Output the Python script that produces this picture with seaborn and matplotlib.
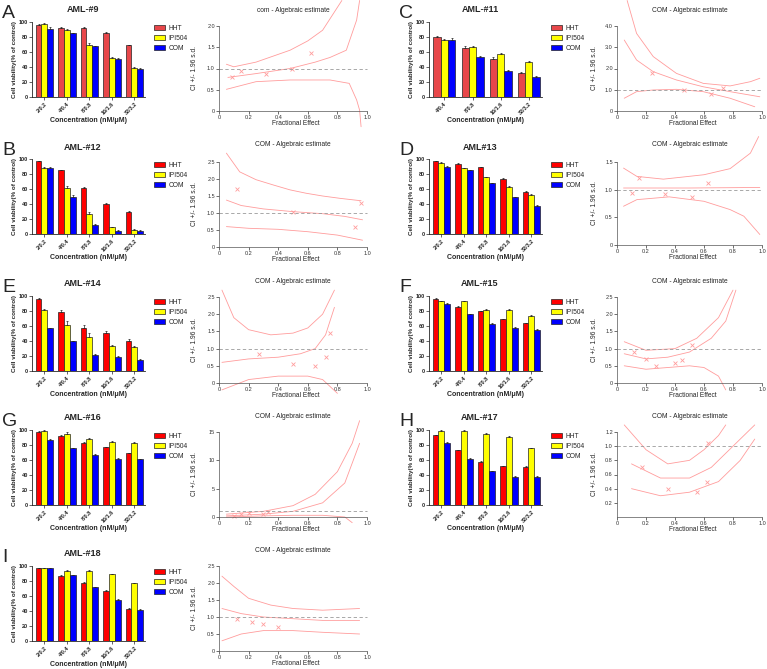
import matplotlib
matplotlib.use("Agg")
import matplotlib.pyplot as plt
import seaborn as sns
import pandas as pd

sns.set_style("ticks")
plt.rcParams["font.family"] = ["Liberation Sans", "DejaVu Sans"]
plt.rcParams["axes.linewidth"] = 0.6

W, H = 767, 669

conc5 = ["2/0.2", "4/0.4", "8/0.8", "16/1.6", "32/3.2"]
conc4 = ["4/0.4", "8/0.8", "16/1.6", "32/3.2"]
drugs = ["HHT", "IPI504", "COM"]

# cell viability (% of control) and error, order HHT / IPI504 / COM
aml9_hht = [96, 92, 92, 86, 69]
aml9_ipi = [98, 90, 70, 52, 39]
aml9_com = [91, 85, 68, 51, 38]
aml9_err = [[1, 1, 1, 1, 1], [1, 1, 1.5, 1, 1], [2.5, 1, 0.5, 1, 0.5]]

aml11_hht = [80, 66, 51, 32]
aml11_ipi = [76, 67, 57, 47]
aml11_com = [76, 54, 35, 27]
aml11_err = [[1, 2.5, 3, 1], [1, 0.5, 1.5, 1], [3, 1, 0.5, 0.5]]

aml12_hht = [97, 85, 61, 40, 30]
aml12_ipi = [88, 62, 27, 9, 6]
aml12_com = [88, 50, 12, 4, 4]
aml12_err = [[1, 1, 1.5, 1, 1], [1.5, 2, 2, 1, 1], [1.5, 2, 1, 1, 1]]

aml13_hht = [97, 94, 89, 74, 56]
aml13_ipi = [95, 88, 76, 63, 52]
aml13_com = [90, 85, 68, 49, 38]
aml13_err = [[0.5, 1, 0.5, 0.5, 1], [0.5, 0.5, 0.5, 1, 1.5], [0.5, 0.5, 0.5, 0.5, 1]]

aml14_hht = [96, 79, 58, 51, 40]
aml14_ipi = [81, 62, 46, 33, 32]
aml14_com = [57, 40, 22, 19, 15]
aml14_err = [[1, 2, 3, 2, 3], [1.5, 5, 5, 2, 1], [0.5, 0.5, 0.5, 0.5, 0.5]]

aml15_hht = [96, 86, 80, 69, 64]
aml15_ipi = [93, 93, 82, 82, 74]
aml15_com = [90, 76, 63, 58, 55]
aml15_err = [[1, 0.5, 0.5, 0.5, 0.5], [0.5, 1, 1, 1, 1], [1, 0.5, 0.5, 0.5, 0.5]]

aml16_hht = [98, 92, 83, 77, 69]
aml16_ipi = [99, 95, 88, 84, 83]
aml16_com = [87, 76, 67, 62, 61]
aml16_err = [[1, 1, 1, 1, 1], [1, 2, 1, 1, 1], [0.5, 0.5, 0.5, 0.5, 0.5]]

aml17_hht = [93, 73, 58, 52, 51]
aml17_ipi = [99, 99, 95, 91, 76]
aml17_com = [83, 62, 45, 38, 38]
aml17_err = [[1, 0.5, 0.5, 0.5, 0.5], [0.5, 0.5, 0.5, 0.5, 0.5], [0.5, 0.5, 0.5, 0.5, 0.5]]

aml18_hht = [97, 87, 78, 67, 43]
aml18_ipi = [97, 94, 94, 89, 77]
aml18_com = [97, 88, 72, 55, 42]
aml18_err = [[0.5, 0.5, 0.5, 0.5, 0.5], [0.5, 0.5, 0.5, 0.5, 0.5], [0.5, 0.5, 0.5, 0.5, 0.5]]

# CI +/- 1.96 s.d. curves, (fractional effect, CI)
aml9_ci_up = [(0.05, 1.10), (0.10, 1.04), (0.25, 1.15), (0.48, 1.43), (0.60, 1.65), (0.70, 1.90), (0.83, 2.60)]
aml9_ci_mid = [(0.06, 0.79), (0.25, 0.88), (0.48, 1.00), (0.65, 1.15), (0.75, 1.26), (0.86, 1.43), (0.93, 2.14), (0.95, 2.60)]
aml9_ci_low = [(0.05, 0.51), (0.25, 0.69), (0.48, 0.73), (0.75, 0.73), (0.88, 0.65), (0.93, 0.26), (0.95, 0.02), (0.96, -0.37)]
aml9_ci_pts = [(0.09, 0.80), (0.15, 0.95), (0.32, 0.86), (0.49, 0.99), (0.62, 1.36)]

aml11_ci_up = [(0.07, 5.2), (0.135, 3.65), (0.25, 2.56), (0.41, 1.77), (0.595, 1.30), (0.78, 1.18), (0.92, 1.38), (0.985, 1.54)]
aml11_ci_mid = [(0.05, 3.34), (0.135, 2.40), (0.25, 1.85), (0.41, 1.46), (0.595, 1.14), (0.78, 0.91), (0.985, 0.67)]
aml11_ci_low = [(0.05, 0.60), (0.135, 0.91), (0.25, 0.99), (0.41, 1.02), (0.595, 0.91), (0.78, 0.60), (0.95, 0.20)]
aml11_ci_pts = [(0.24, 1.80), (0.46, 0.99), (0.65, 0.80), (0.73, 1.07)]

aml12_ci_up = [(0.05, 2.76), (0.14, 2.21), (0.25, 1.98), (0.37, 1.82), (0.48, 1.68), (0.59, 1.58), (0.70, 1.50), (0.82, 1.43), (0.96, 1.36)]
aml12_ci_mid = [(0.05, 1.38), (0.15, 1.22), (0.30, 1.12), (0.50, 1.04), (0.70, 0.98), (0.85, 0.90), (0.97, 0.80)]
aml12_ci_low = [(0.05, 0.60), (0.20, 0.55), (0.40, 0.52), (0.60, 0.45), (0.80, 0.35), (0.97, 0.20)]
aml12_ci_pts = [(0.12, 1.70), (0.50, 1.02), (0.92, 0.60), (0.96, 1.30)]

aml13_ci_up = [(0.045, 1.39), (0.137, 1.24), (0.32, 1.19), (0.60, 1.27), (0.78, 1.38), (0.92, 1.66), (0.977, 1.96)]
aml13_ci_mid = [(0.045, 1.03), (0.50, 1.03), (0.985, 1.04)]
aml13_ci_low = [(0.045, 0.70), (0.137, 0.82), (0.36, 0.87), (0.60, 0.79), (0.78, 0.64), (0.875, 0.52), (0.985, 0.19)]
aml13_ci_pts = [(0.10, 0.94), (0.15, 1.21), (0.33, 0.93), (0.52, 0.86), (0.63, 1.12)]

aml14_ci_up = [(0.02, 2.70), (0.10, 1.90), (0.20, 1.55), (0.35, 1.40), (0.50, 1.45), (0.60, 1.60), (0.70, 2.00), (0.78, 2.70)]
aml14_ci_mid = [(0.02, 0.60), (0.20, 0.70), (0.40, 0.75), (0.55, 0.85), (0.65, 1.00), (0.72, 1.40), (0.78, 2.20)]
aml14_ci_low = [(0.02, -0.20), (0.20, 0.10), (0.40, 0.20), (0.60, 0.20), (0.70, 0.10), (0.80, -0.30)]
aml14_ci_pts = [(0.27, 0.85), (0.50, 0.55), (0.65, 0.50), (0.72, 0.75), (0.75, 1.45)]

aml15_ci_up = [(0.05, 1.20), (0.20, 0.95), (0.40, 1.00), (0.55, 1.30), (0.70, 1.90), (0.80, 2.70)]
aml15_ci_mid = [(0.05, 0.85), (0.20, 0.70), (0.35, 0.75), (0.50, 0.90), (0.65, 1.30), (0.75, 1.80), (0.82, 2.70)]
aml15_ci_low = [(0.05, 0.50), (0.20, 0.40), (0.35, 0.45), (0.50, 0.50), (0.60, 0.45), (0.70, 0.20), (0.75, -0.20)]
aml15_ci_pts = [(0.12, 0.90), (0.20, 0.70), (0.27, 0.50), (0.40, 0.58), (0.45, 0.68), (0.52, 1.10)]

aml16_ci_up = [(0.05, 0.5), (0.30, 1.0), (0.50, 2.0), (0.65, 4.0), (0.80, 8.0), (0.90, 13.0), (0.95, 17.0)]
aml16_ci_mid = [(0.05, 0.2), (0.30, 0.5), (0.50, 1.0), (0.70, 2.5), (0.85, 6.0), (0.95, 13.0)]
aml16_ci_low = [(0.05, 0.0), (0.30, 0.2), (0.50, 0.3), (0.70, 0.3), (0.85, 0.0), (0.90, -1.0)]
aml16_ci_pts = [(0.10, 0.2), (0.15, 0.5), (0.20, 0.7), (0.30, 0.6), (0.33, 0.8)]

aml17_ci_up = [(0.05, 1.30), (0.20, 0.95), (0.35, 0.75), (0.50, 0.80), (0.60, 0.95), (0.70, 1.15), (0.75, 1.30)]
aml17_ci_mid = [(0.10, 0.75), (0.30, 0.55), (0.50, 0.55), (0.65, 0.70), (0.80, 1.00), (0.95, 1.30)]
aml17_ci_low = [(0.10, 0.40), (0.30, 0.30), (0.50, 0.35), (0.70, 0.50), (0.85, 0.80), (0.95, 1.10)]
aml17_ci_pts = [(0.17, 0.70), (0.35, 0.40), (0.55, 0.35), (0.62, 0.50), (0.63, 1.05)]

aml18_ci_up = [(0.02, 2.20), (0.10, 1.90), (0.20, 1.55), (0.35, 1.35), (0.50, 1.25), (0.70, 1.20), (0.95, 1.25)]
aml18_ci_mid = [(0.02, 1.25), (0.15, 1.10), (0.30, 1.00), (0.50, 0.95), (0.70, 0.90), (0.95, 0.90)]
aml18_ci_low = [(0.02, 0.30), (0.15, 0.50), (0.30, 0.60), (0.50, 0.60), (0.70, 0.55), (0.95, 0.50)]
aml18_ci_pts = [(0.12, 0.95), (0.22, 0.85), (0.30, 0.78), (0.40, 0.72)]

pink = "#FF9C9C"
fig = plt.figure(figsize=(W / 100, H / 100), dpi=100)


def px_axes(x0, y0, w, h):
    return fig.add_axes([x0 / W, 1 - (y0 + h) / H, w / W, h / H])


def bar_panel(letter, title, cats, hht, ipi, com, errs, x0, ytop, red):
    ax = px_axes(x0, ytop, 113, 75)
    df = pd.DataFrame({
        "conc": cats * 3,
        "drug": [d for d in drugs for _ in cats],
        "value": hht + ipi + com,
    })
    sns.barplot(data=df, x="conc", y="value", hue="drug", hue_order=drugs,
                palette=[red, "#FFFF00", "#0000FF"], saturation=1, width=0.78,
                edgecolor="#222222", linewidth=0.5, errorbar=None, ax=ax)
    for cont, err in zip(ax.containers, errs):
        xs = [b.get_x() + b.get_width() / 2 for b in cont]
        ys = [b.get_height() for b in cont]
        ax.errorbar(xs, ys, yerr=[[0] * len(err), err], fmt="none", ecolor="#222222",
                    elinewidth=0.5, capsize=1, capthick=0.5)
    ax.set_xlim(-0.55, len(cats) - 0.53)
    ax.set_ylim(0, 100)
    ax.set_yticks(range(0, 101, 20))
    sns.despine(ax=ax)
    ax.tick_params(length=2, width=0.5, pad=1, labelsize=4)
    ax.set_xticks(range(len(cats)))
    ax.set_xticklabels(cats, rotation=45, ha="right", rotation_mode="anchor")
    for lbl in ax.get_xticklabels() + ax.get_yticklabels():
        lbl.set_fontweight("bold")
    ax.set_ylabel("Cell viability(% of control)", fontsize=4.5, fontweight="bold", labelpad=1)
    ax.set_xlabel("Concentration (nM/μM)", fontsize=5, fontweight="bold", labelpad=1)
    handles, labels = ax.get_legend_handles_labels()
    ax.legend(handles, labels, loc="upper left", bbox_to_anchor=(1.06, 1.0), frameon=False,
              fontsize=4.8, handlelength=1.6, handleheight=0.9, labelspacing=0.45,
              handletextpad=0.5, borderaxespad=0)
    fig.text((x0 + 51) / W, 1 - (ytop - 12) / H, title, ha="center", va="center",
             fontsize=6.5, fontweight="bold")
    fig.text((x0 - 30) / W, 1 - (ytop - 17) / H, letter, ha="left", va="top", fontsize=14)


def ci_panel(title, up, mid, low, pts, ticks, ticklabels, x0, x1, y0, yt_px, row, ylab_x):
    rt, rb = row
    s = (y0 - yt_px) / ticks[-1]
    ax = px_axes(x0, rt, (x1 - x0) * 1.04, rb - rt)
    ax.set_xlim(0, 1.04)
    ax.set_ylim(-(rb - y0) / s, (y0 - rt) / s)
    for curve in (up, mid, low):
        sns.lineplot(x=[p[0] for p in curve], y=[p[1] for p in curve], sort=False,
                     estimator=None, color=pink, lw=0.6, ax=ax)
    sns.scatterplot(x=[p[0] for p in pts], y=[p[1] for p in pts], marker="x", color=pink,
                    s=8, linewidth=0.6, ax=ax)
    ax.hlines(1, 0, 1, colors="#9a9a9a", linestyles=(0, (4, 3)), lw=0.6)
    sns.despine(ax=ax)
    ax.spines["left"].set_bounds(0, ticks[-1])
    ax.spines["bottom"].set_position(("data", 0))
    ax.spines["bottom"].set_bounds(0, 1)
    for sp in ("left", "bottom"):
        ax.spines[sp].set_color("#555555")
        ax.spines[sp].set_linewidth(0.5)
    ax.set_yticks(ticks)
    ax.set_yticklabels(ticklabels)
    ax.set_xticks([0, 0.2, 0.4, 0.6, 0.8, 1.0])
    ax.set_xticklabels(["0", "0.2", "0.4", "0.6", "0.8", "1.0"])
    ax.tick_params(length=2, width=0.5, pad=1, labelsize=4, colors="#333333")
    ax.set_xlabel("Fractional Effect", fontsize=4.8, labelpad=0)
    ax.set_ylabel("")
    ax.annotate(title, xy=(0.5, (rb - (rt + 11)) / (rb - rt)), xycoords=("data", "axes fraction"),
                ha="center", va="center", fontsize=4.8)
    fig.text(ylab_x / W, 1 - ((y0 + yt_px) / 2) / H, "CI +/- 1.96 s.d.", rotation=90,
             ha="center", va="center", fontsize=4.8)


rows = [(0, 130), (134, 268), (270, 403), (405, 538), (540, 669)]
bar_tops = [22, 159, 296, 430, 566]
ci_zero = [111, 247, 383, 517, 651]
ci_top = [26, 162, 297, 432, 566]

t05 = [0, 0.5, 1.0, 1.5, 2.0, 2.5]
l05 = ["0", "0.5", "1.0", "1.5", "2.0", "2.5"]

bar_panel("A", "AML-#9", conc5, aml9_hht, aml9_ipi, aml9_com, aml9_err, 32, bar_tops[0], "#E8474A")
ci_panel("com - Algebraic estimate", aml9_ci_up, aml9_ci_mid, aml9_ci_low, aml9_ci_pts,
         t05[:5], l05[:5], 219, 367, ci_zero[0], ci_top[0], rows[0], 195)

bar_panel("C", "AML-#11", conc4, aml11_hht, aml11_ipi, aml11_com, aml11_err, 429, bar_tops[0], "#E8474A")
ci_panel("COM - Algebraic estimate", aml11_ci_up, aml11_ci_mid, aml11_ci_low, aml11_ci_pts,
         [0, 1, 2, 3, 4], ["0", "1.0", "2.0", "3.0", "4.0"], 617, 762, ci_zero[0], ci_top[0], rows[0], 595)

bar_panel("B", "AML-#12", conc5, aml12_hht, aml12_ipi, aml12_com, aml12_err, 32, bar_tops[1], "#FF0000")
ci_panel("COM - Algebraic estimate", aml12_ci_up, aml12_ci_mid, aml12_ci_low, aml12_ci_pts,
         t05, l05, 219, 367, ci_zero[1], ci_top[1], rows[1], 195)

bar_panel("D", "AML#13", conc5, aml13_hht, aml13_ipi, aml13_com, aml13_err, 429, bar_tops[1], "#FF0000")
ci_panel("COM - Algebraic estimate", aml13_ci_up, aml13_ci_mid, aml13_ci_low, aml13_ci_pts,
         t05[:4], l05[:4], 617, 762, 245, 162, rows[1], 595)

bar_panel("E", "AML-#14", conc5, aml14_hht, aml14_ipi, aml14_com, aml14_err, 32, bar_tops[2], "#FF0000")
ci_panel("COM - Algebraic estimate", aml14_ci_up, aml14_ci_mid, aml14_ci_low, aml14_ci_pts,
         t05, l05, 219, 367, ci_zero[2], ci_top[2], rows[2], 195)

bar_panel("F", "AML-#15", conc5, aml15_hht, aml15_ipi, aml15_com, aml15_err, 429, bar_tops[2], "#FF0000")
ci_panel("COM - Algebraic estimate", aml15_ci_up, aml15_ci_mid, aml15_ci_low, aml15_ci_pts,
         t05, l05, 617, 762, ci_zero[2], ci_top[2], rows[2], 595)

bar_panel("G", "AML-#16", conc5, aml16_hht, aml16_ipi, aml16_com, aml16_err, 32, bar_tops[3], "#FF0000")
ci_panel("COM - Algebraic estimate", aml16_ci_up, aml16_ci_mid, aml16_ci_low, aml16_ci_pts,
         [0, 5, 10, 15], ["0", "5", "10", "15"], 219, 367, ci_zero[3], ci_top[3], rows[3], 195)

bar_panel("H", "AML-#17", conc5, aml17_hht, aml17_ipi, aml17_com, aml17_err, 429, bar_tops[3], "#FF0000")
ci_panel("COM - Algebraic estimate", aml17_ci_up, aml17_ci_mid, aml17_ci_low, aml17_ci_pts,
         [0.2, 0.4, 0.6, 0.8, 1.0, 1.2], ["0.2", "0.4", "0.6", "0.8", "1.0", "1.2"],
         617, 762, ci_zero[3], ci_top[3], rows[3], 595)

bar_panel("I", "AML-#18", conc5, aml18_hht, aml18_ipi, aml18_com, aml18_err, 32, bar_tops[4], "#FF0000")
ci_panel("COM - Algebraic estimate", aml18_ci_up, aml18_ci_mid, aml18_ci_low, aml18_ci_pts,
         t05, l05, 219, 367, ci_zero[4], ci_top[4], rows[4], 195)

fig.savefig("out.png", dpi=100)
